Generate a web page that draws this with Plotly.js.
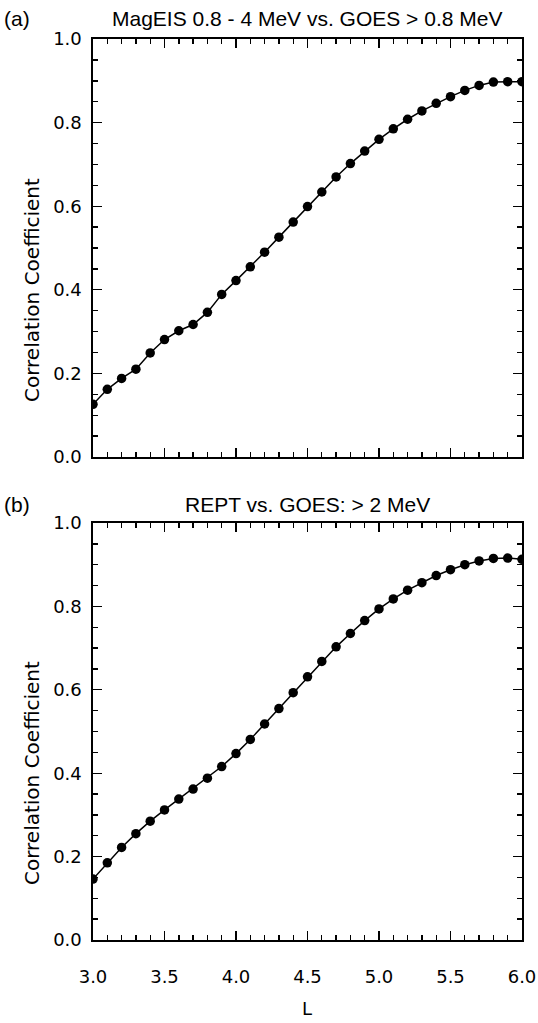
<!DOCTYPE html>
<html>
<head>
<meta charset="utf-8">
<script src="https://cdn.plot.ly/plotly-3.0.1.min.js"></script>
<style>html,body{margin:0;padding:0;background:#fff;}#chart{width:538px;height:1023px;}</style>
</head>
<body>
<div id="chart"></div>
<script>
// L-shell values
const Lvals = [3.0,3.1,3.2,3.3,3.4,3.5,3.6,3.7,3.8,3.9,4.0,4.1,4.2,4.3,4.4,4.5,4.6,4.7,4.8,4.9,5.0,5.1,5.2,5.3,5.4,5.5,5.6,5.7,5.8,5.9,6.0];
// (a) MagEIS 0.8 - 4 MeV vs GOES > 0.8 MeV
const corrMagEIS = [0.126,0.162,0.188,0.210,0.249,0.281,0.302,0.317,0.346,0.389,0.422,0.455,0.490,0.526,0.562,0.599,0.634,0.670,0.702,0.732,0.760,0.785,0.808,0.828,0.846,0.862,0.877,0.889,0.897,0.898,0.898];
// (b) REPT vs GOES > 2 MeV
const corrREPT = [0.146,0.185,0.222,0.255,0.285,0.312,0.338,0.362,0.388,0.416,0.447,0.481,0.518,0.555,0.593,0.631,0.668,0.703,0.735,0.766,0.794,0.818,0.839,0.857,0.874,0.888,0.900,0.909,0.915,0.916,0.913];
const titleA = "MagEIS 0.8 - 4 MeV vs. GOES > 0.8 MeV";
const titleB = "REPT vs. GOES: > 2 MeV";
const yTitle = "Correlation Coefficient";
const xTitle = "L";

const W = 538, H = 1023;
const px = v => v / W;
const py = v => 1 - v / H;

const tickFont = {family: "DejaVu Sans", size: 18, color: "#000"};
const titleFont = {family: "Liberation Sans", size: 21, color: "#000"};
const yTitleFont = {family: "DejaVu Sans", size: 20, color: "#000"};

function trace(y, xa, ya) {
  return {
    x: Lvals, y: y, xaxis: xa, yaxis: ya, type: "scatter", mode: "lines+markers",
    line: {color: "#000", width: 1.5},
    marker: {color: "#000", size: 9.5},
    hoverinfo: "skip", showlegend: false
  };
}

function xax(showLabels, anchor) {
  return {
    domain: [px(93), px(522)], anchor: anchor, range: [3, 6], autorange: false,
    showgrid: false, zeroline: false, showline: true, linecolor: "#000", linewidth: 1.6,
    mirror: "ticks", ticks: "inside", ticklen: 9, tickwidth: 1.4, tickcolor: "#000",
    tick0: 3, dtick: 0.5, tickformat: ".1f",
    minor: {dtick: 0.1, ticks: "inside", ticklen: 5, tickwidth: 1.4, tickcolor: "#000", showgrid: false},
    showticklabels: showLabels, tickfont: tickFont, ticklabelstandoff: 20,
    automargin: false, fixedrange: true
  };
}
function yax(domain, anchor) {
  return {
    domain: domain, anchor: anchor, range: [0, 1], autorange: false,
    showgrid: false, zeroline: false, showline: true, linecolor: "#000", linewidth: 1.6,
    mirror: "ticks", ticks: "inside", ticklen: 9, tickwidth: 1.4, tickcolor: "#000",
    tick0: 0, dtick: 0.2, tickformat: ".1f",
    minor: {dtick: 0.05, ticks: "inside", ticklen: 5, tickwidth: 1.4, tickcolor: "#000", showgrid: false},
    tickfont: tickFont, ticklabelstandoff: 6,
    automargin: false, fixedrange: true
  };
}

const data = [trace(corrMagEIS, "x", "y"), trace(corrREPT, "x2", "y2")];

const layout = {
  width: W, height: H,
  margin: {l: 0, r: 0, t: 0, b: 0},
  paper_bgcolor: "#fff", plot_bgcolor: "#fff",
  xaxis: xax(false, "y"),
  yaxis: yax([py(457), py(39)], "x"),
  xaxis2: xax(true, "y2"),
  yaxis2: yax([py(940), py(523)], "x2"),
  annotations: [
    {text: "(a)", x: px(2), y: py(19), xref: "paper", yref: "paper", xanchor: "left", yanchor: "middle", showarrow: false, font: titleFont},
    {text: titleA, x: px(307), y: py(19), xref: "paper", yref: "paper", xanchor: "center", yanchor: "middle", showarrow: false, font: titleFont},
    {text: "(b)", x: px(2), y: py(504), xref: "paper", yref: "paper", xanchor: "left", yanchor: "middle", showarrow: false, font: titleFont},
    {text: titleB, x: px(307), y: py(504), xref: "paper", yref: "paper", xanchor: "center", yanchor: "middle", showarrow: false, font: titleFont},
    {text: yTitle, x: px(32), y: py(290), xref: "paper", yref: "paper", xanchor: "center", yanchor: "middle", textangle: -90, showarrow: false, font: yTitleFont},
    {text: yTitle, x: px(32), y: py(773), xref: "paper", yref: "paper", xanchor: "center", yanchor: "middle", textangle: -90, showarrow: false, font: yTitleFont},
    {text: xTitle, x: px(307), y: py(1008), xref: "paper", yref: "paper", xanchor: "center", yanchor: "middle", showarrow: false, font: {family: "DejaVu Sans", size: 18, color: "#000"}}
  ]
};

Plotly.newPlot("chart", data, layout, {staticPlot: true, displayModeBar: false});
</script>
</body>
</html>
